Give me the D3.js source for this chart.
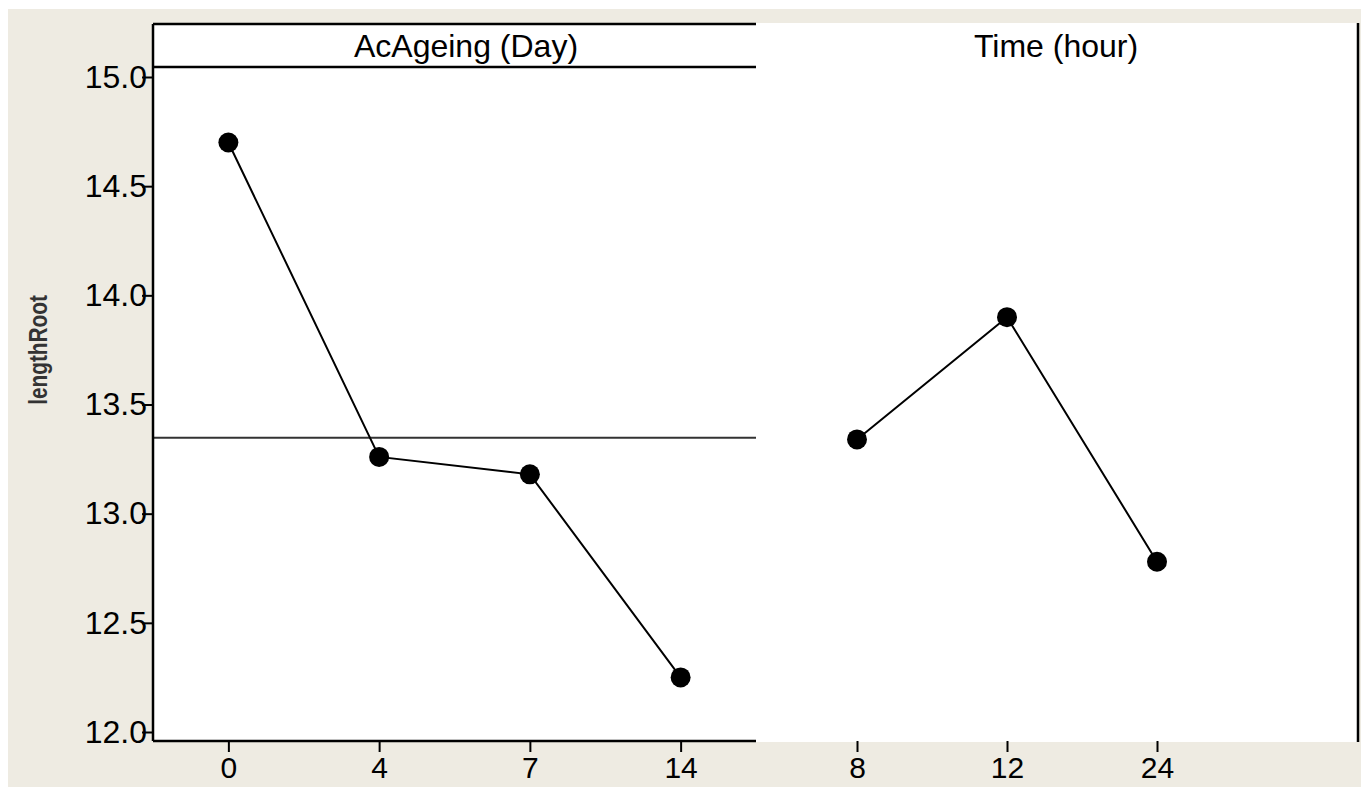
<!DOCTYPE html>
<html>
<head>
<meta charset="utf-8">
<script src="https://cdn.jsdelivr.net/npm/d3@7"></script>
<style>
  html, body { margin: 0; padding: 0; background: #ffffff; }
  svg { display: block; }
  text { font-family: "Liberation Sans", Arial, sans-serif; fill: #000; }
</style>
</head>
<body>
<svg id="chart" width="1361" height="787"></svg>
<script>
// Main effects of AcAgeing and Time on lengthRoot
const ageingLevels = ["0", "4", "7", "14"];
const ageingMeans  = [14.70, 13.26, 13.18, 12.25];
const timeLevels   = ["8", "12", "24"];
const timeMeans    = [13.34, 13.90, 12.78];
const yTicks       = [12.0, 12.5, 13.0, 13.5, 14.0, 14.5, 15.0];
const panelTitles  = ["AcAgeing (Day)", "Time (hour)"];
const yLabel       = "lengthRoot";

const svg = d3.select("#chart");
const W = 1361, H = 787;

// layout
const panelTop = 24, panelBottom = 741, stripBottom = 67;
const leftX0 = 153, leftX1 = 756;
const rightX0 = 756, rightX1 = 1358;

// backdrop
svg.append("rect").attr("x", 8).attr("y", 9).attr("width", W - 8).attr("height", H - 9)
  .attr("fill", "#eeebe2");
svg.append("rect").attr("x", leftX0).attr("y", panelTop).attr("width", leftX1 - leftX0).attr("height", panelBottom - panelTop)
  .attr("fill", "#ffffff");
svg.append("rect").attr("x", rightX0).attr("y", panelTop - 1).attr("width", rightX1 - rightX0).attr("height", panelBottom - panelTop + 2)
  .attr("fill", "#ffffff");

// shared y scale
const y = d3.scaleLinear().domain([12, 15]).range([732, 77]);

// x scales
const xLeft = d3.scalePoint().domain(ageingLevels).range([leftX0, leftX1]).padding(0.5);
const xRight = d3.scalePoint().domain(timeLevels).range([rightX0 + 101, rightX0 + 401]);

// grand mean reference line (left panel)
const grandMean = d3.mean(ageingMeans);
svg.append("line")
  .attr("x1", leftX0).attr("x2", leftX1)
  .attr("y1", y(grandMean)).attr("y2", y(grandMean))
  .attr("stroke", "#333").attr("stroke-width", 2);

// frame lines
const frame = svg.append("g").attr("stroke", "#000").attr("stroke-width", 2.5);
frame.append("line").attr("x1", leftX0).attr("x2", leftX1).attr("y1", panelTop).attr("y2", panelTop);
frame.append("line").attr("x1", leftX0).attr("x2", leftX1).attr("y1", stripBottom).attr("y2", stripBottom);
frame.append("line").attr("x1", rightX1).attr("x2", rightX1).attr("y1", panelTop - 1).attr("y2", panelBottom + 1);

// y axis
const yAxis = svg.append("g")
  .attr("transform", `translate(${leftX0},0)`)
  .call(d3.axisLeft(y).tickValues(yTicks).tickFormat(d3.format(".1f")).tickSize(11).tickPadding(-5));
yAxis.select(".domain").remove();
yAxis.selectAll(".tick line").attr("stroke", "#000").attr("stroke-width", 2);
yAxis.selectAll(".tick text").attr("font-size", 32).attr("font-family", "Liberation Sans, Arial, sans-serif");
svg.append("line").attr("x1", leftX0).attr("x2", leftX0).attr("y1", panelTop).attr("y2", panelBottom)
  .attr("stroke", "#000").attr("stroke-width", 2.5);

// x axes
function styleX(g) {
  g.select(".domain").remove();
  g.selectAll(".tick line").attr("stroke", "#000").attr("stroke-width", 2);
  g.selectAll(".tick text").attr("font-size", 30).attr("font-family", "Liberation Sans, Arial, sans-serif");
}
svg.append("g").attr("transform", `translate(0,${panelBottom})`)
  .call(d3.axisBottom(xLeft).tickSize(11).tickPadding(5)).call(styleX);
svg.append("g").attr("transform", `translate(0,${panelBottom})`)
  .call(d3.axisBottom(xRight).tickSize(11).tickPadding(5)).call(styleX);
svg.append("line").attr("x1", leftX0).attr("x2", leftX1).attr("y1", panelBottom).attr("y2", panelBottom)
  .attr("stroke", "#000").attr("stroke-width", 2.5);

// panel titles
svg.append("text").attr("x", 466).attr("y", 57).attr("text-anchor", "middle")
  .attr("font-size", 32).text(panelTitles[0]);
svg.append("text").attr("x", 1056).attr("y", 57).attr("text-anchor", "middle")
  .attr("font-size", 32).text(panelTitles[1]);

// y axis title (condensed bold)
svg.append("text")
  .attr("transform", "translate(47,350) rotate(-90) scale(0.8,1)")
  .attr("text-anchor", "middle")
  .attr("font-size", 26).attr("font-weight", "bold").style("fill", "#333")
  .text(yLabel);

// series
function drawSeries(levels, means, x) {
  const pts = levels.map((l, i) => [x(l), y(means[i])]);
  svg.append("path").attr("d", d3.line()(pts))
    .attr("fill", "none").attr("stroke", "#000").attr("stroke-width", 2);
  svg.append("g").selectAll("circle").data(pts).join("circle")
    .attr("cx", d => d[0]).attr("cy", d => d[1]).attr("r", 10).attr("fill", "#000");
}
drawSeries(ageingLevels, ageingMeans, xLeft);
drawSeries(timeLevels, timeMeans, xRight);
</script>
</body>
</html>
